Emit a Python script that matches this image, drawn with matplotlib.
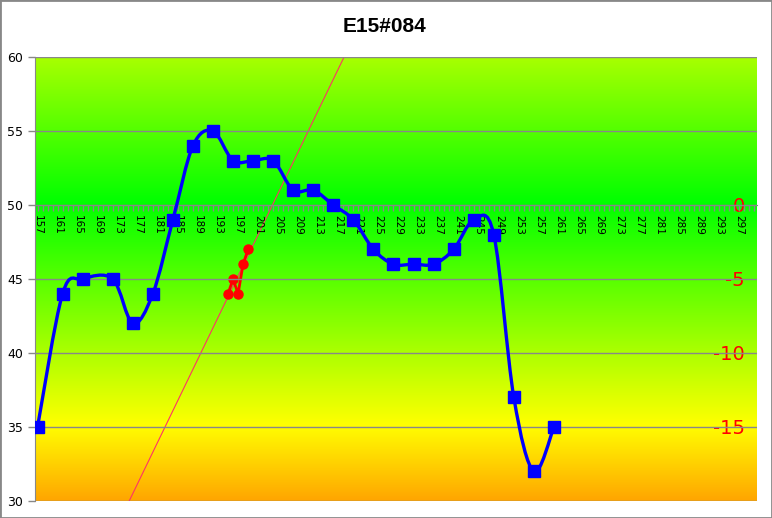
import numpy as np
import matplotlib
matplotlib.use("Agg")
import matplotlib.pyplot as plt
from matplotlib.path import Path
from matplotlib.patches import PathPatch, Rectangle
from matplotlib.colors import LinearSegmentedColormap

plt.rcParams["axes.unicode_minus"] = False

title = "E15#084"

blue_x = [157, 162, 166, 172, 176, 180, 184, 188, 192, 196, 200, 204, 208,
          212, 216, 220, 224, 228, 232, 236, 240, 244, 248, 252, 256, 260]
blue_y = [35, 44, 45, 45, 42, 44, 49, 54, 55, 53, 53, 53, 51,
          51, 50, 49, 47, 46, 46, 46, 47, 49, 48, 37, 32, 35]

red_x = [195, 196, 197, 198, 199]
red_y = [-6, -5, -6, -4, -3]

cat_first, cat_last = 157, 300
label_cats = list(range(157, 298, 4))
right_ticks = [0, -5, -10, -15]


def smooth_path(xs, ys):
    # Excel-style smoothed line: cubic Bezier through every point
    p = np.column_stack([xs, ys]).astype(float)
    n = len(p)
    verts = [p[0]]
    codes = [Path.MOVETO]
    for i in range(n - 1):
        prev = p[i - 1] if i > 0 else p[i]
        nxt = p[i + 2] if i + 2 < n else p[i + 1]
        c1 = p[i] + (p[i + 1] - prev) / 6
        c2 = p[i + 1] - (nxt - p[i]) / 6
        verts += [c1, c2, p[i + 1]]
        codes += [Path.CURVE4] * 3
    return Path(verts, codes)


fig = plt.figure(figsize=(7.72, 5.18), dpi=100)
ax = fig.add_axes([35 / 772, 1 - 501 / 518, (757 - 35) / 772, (501 - 57) / 518])
ax2 = ax.twinx()
ax2.set_zorder(ax.get_zorder() - 1)
ax.patch.set_visible(False)

# background gradient (on the lower axes)
grad = LinearSegmentedColormap.from_list("bg", [
    (0.0, (0.66, 1.0, 0.0)),
    (0.33, (0.0, 1.0, 0.0)),
    (0.83, (1.0, 1.0, 0.0)),
    (1.0, (1.0, 0.65, 0.0)),
])
ax2.imshow(np.linspace(0, 1, 256).reshape(-1, 1), cmap=grad, aspect="auto",
           extent=[0, 1, 0, 1], transform=ax2.transAxes, zorder=0)

xlim = (cat_first - 0.5, cat_last + 0.5)
ax.set_xlim(*xlim)
ax.set_ylim(30, 60)
ax2.set_ylim(-20, 10)

# red series + linear trendline (secondary axis)
slope, intercept = np.polyfit(red_x, red_y, 1)
tx = np.array(xlim)
ax2.plot(tx, slope * tx + intercept, color="#ff3366", lw=0.8, zorder=2)
ax2.plot(red_x, red_y, color="red", lw=2, marker="o", markersize=6.5, zorder=3)

# blue series (primary axis)
ax.add_patch(PathPatch(smooth_path(blue_x, blue_y), fill=False,
                       edgecolor="blue", lw=2.4, zorder=3))
ax.plot(blue_x, blue_y, linestyle="none", marker="s", markersize=8,
        color="blue", zorder=4)

# primary axis styling
gray = "#888888"
ax.set_yticks(range(30, 61, 5))
ax.grid(axis="y", color=gray, lw=1)
ax.tick_params(axis="y", colors=gray, labelcolor="black", labelsize=9,
               length=5, width=1)
for s in ["top", "right"]:
    ax.spines[s].set_visible(False)
ax.spines["left"].set_color(gray)
ax.spines["bottom"].set_position(("data", 50))
ax.spines["bottom"].set_color(gray)
ax.set_xticks(label_cats)
ax.set_xticks(range(cat_first, cat_last + 1), minor=True)
ax.set_xticklabels([str(c) for c in label_cats], rotation=-90, fontsize=7.5)
ax.tick_params(axis="x", which="both", colors=gray, labelcolor="black",
               length=4, width=1, pad=3)

# secondary axis: red labels inside the plot
for s in ax2.spines.values():
    s.set_visible(False)
ax2.set_yticks(right_ticks)
ax2.tick_params(axis="y", length=0, labelsize=14, labelcolor="red", pad=-9)
for lbl in ax2.get_yticklabels():
    lbl.set_horizontalalignment("right")
    lbl.set_verticalalignment("center_baseline")

fig.text(384 / 772, 1 - 27 / 518, title, ha="center", va="center",
         fontsize=15, fontweight="bold", family="Liberation Sans")
fig.patches.append(Rectangle((0, 0), 1, 1, transform=fig.transFigure,
                             fill=False, edgecolor=gray, lw=2))

fig.savefig("out.png", dpi=100)
